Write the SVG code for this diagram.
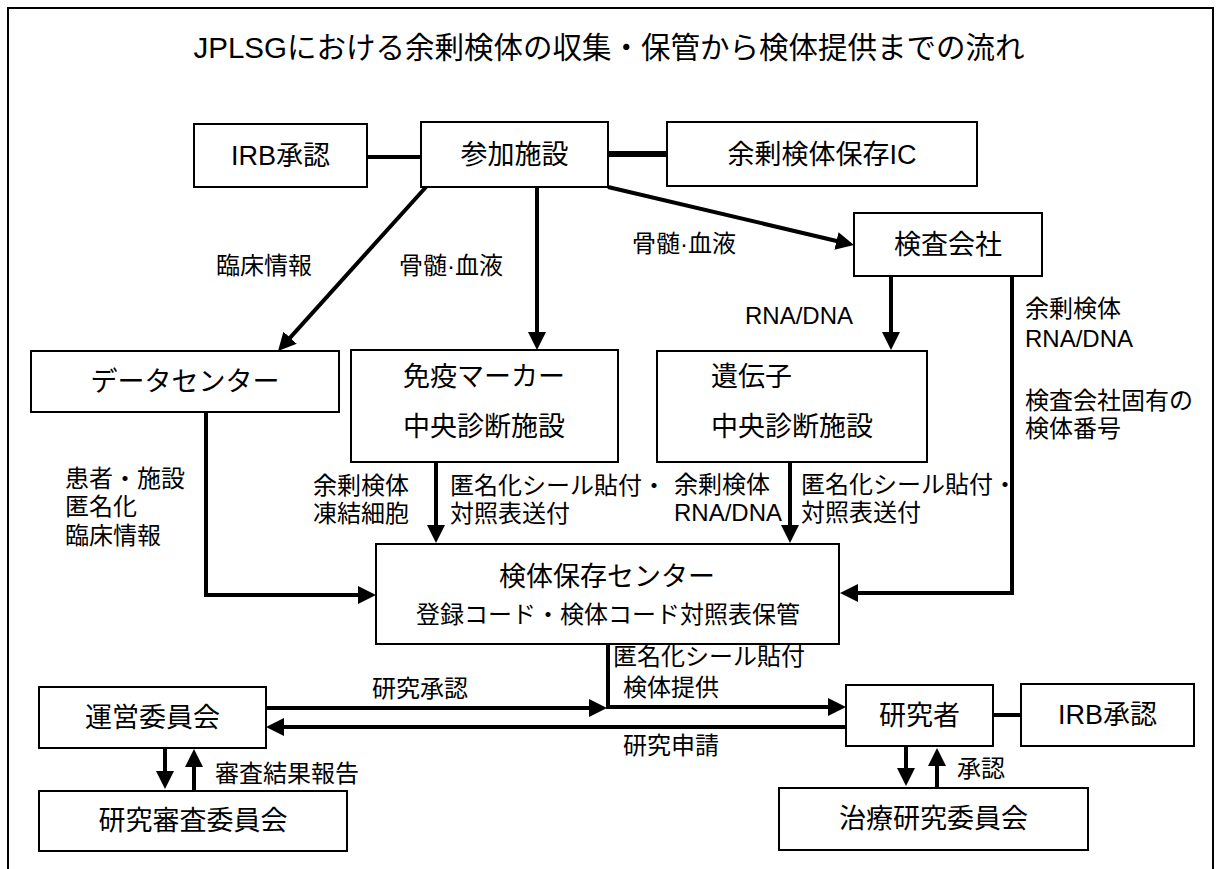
<svg xmlns="http://www.w3.org/2000/svg" width="1218" height="869" viewBox="0 0 1218 869">
<style>
  .box { fill: #fff; stroke: #000; stroke-width: 2; }
  .t { font-family: "Liberation Sans", "Noto Sans CJK JP", sans-serif; fill: #000; dominant-baseline: central; }
  .node { font-size: 27px; text-anchor: middle; }
  .lbl { font-size: 24px; }
  .title { font-size: 29.5px; text-anchor: middle; }
  .ln { fill: none; stroke: #000; stroke-width: 4; stroke-linejoin: miter; }
  .arr { marker-end: url(#ah); }
</style>
<defs>
  <marker id="ah" markerUnits="userSpaceOnUse" markerWidth="18" markerHeight="18" refX="10" refY="9" orient="auto" viewBox="0 0 18 18">
    <path d="M0,0 L18,9 L0,18 Z" fill="#000"/>
  </marker>
</defs>
<rect x="0" y="0" width="1218" height="869" fill="#fff"/>
<path d="M8,869 V8 H1213 V869" fill="none" stroke="#000" stroke-width="2"/>
<text class="t title" x="609" y="47">JPLSGにおける余剰検体の収集・保管から検体提供までの流れ</text>

<g id="connectors">
  <line class="ln" x1="367" y1="157" x2="421" y2="157"/>
  <line class="ln" x1="608" y1="154" x2="667" y2="154" style="stroke-width:6"/>
  <line class="ln arr" x1="426" y1="187" x2="283.4" y2="345.1"/>
  <line class="ln arr" x1="537" y1="187" x2="537" y2="342"/>
  <line class="ln arr" x1="608" y1="187" x2="846.2" y2="243.2"/>
  <line class="ln arr" x1="891" y1="276" x2="891" y2="342"/>
  <polyline class="ln arr" points="1012,276 1012,593 848,593"/>
  <polyline class="ln arr" points="206,412 206,595 368,595"/>
  <line class="ln arr" x1="436" y1="462" x2="436" y2="535"/>
  <line class="ln arr" x1="790" y1="462" x2="790" y2="535"/>
  <polyline class="ln arr" points="608,644 608,707 838,707"/>
  <line class="ln arr" x1="266" y1="708" x2="599" y2="708"/>
  <line class="ln arr" x1="846" y1="727" x2="274" y2="727"/>
  <line class="ln arr" x1="165" y1="748" x2="165" y2="781"/>
  <line class="ln arr" x1="194" y1="791" x2="194" y2="757"/>
  <line class="ln" x1="993" y1="715" x2="1021" y2="715"/>
  <line class="ln arr" x1="906" y1="746" x2="906" y2="778"/>
  <line class="ln arr" x1="937" y1="788" x2="937" y2="756"/>

  <text class="t lbl" x="216" y="265">臨床情報</text>
  <text class="t lbl" x="399" y="265">骨髄·血液</text>
  <text class="t lbl" x="632" y="243">骨髄·血液</text>
  <text class="t lbl" x="745" y="315">RNA/DNA</text>
  <text class="t lbl" x="1025" y="308">余剰検体</text>
  <text class="t lbl" x="1025" y="338">RNA/DNA</text>
  <text class="t lbl" x="1025" y="400">検査会社固有の</text>
  <text class="t lbl" x="1025" y="428">検体番号</text>
  <text class="t lbl" x="65" y="478">患者・施設</text>
  <text class="t lbl" x="65" y="506">匿名化</text>
  <text class="t lbl" x="65" y="535">臨床情報</text>
  <text class="t lbl" x="313" y="485">余剰検体</text>
  <text class="t lbl" x="313" y="513">凍結細胞</text>
  <text class="t lbl" x="450" y="485">匿名化シール貼付・</text>
  <text class="t lbl" x="450" y="513">対照表送付</text>
  <text class="t lbl" x="674" y="484">余剰検体</text>
  <text class="t lbl" x="674" y="512">RNA/DNA</text>
  <text class="t lbl" x="801" y="484">匿名化シール貼付・</text>
  <text class="t lbl" x="801" y="512">対照表送付</text>
  <text class="t lbl" x="613" y="656">匿名化シール貼付</text>
  <text class="t lbl" x="623" y="687">検体提供</text>
  <text class="t lbl" x="372" y="688">研究承認</text>
  <text class="t lbl" x="623" y="745">研究申請</text>
  <text class="t lbl" x="215" y="773">審査結果報告</text>
  <text class="t lbl" x="957" y="768">承認</text>
</g>

<g id="irb-top">
  <rect class="box" x="194" y="124" width="173" height="63"/>
  <text class="t node" x="280.5" y="156">IRB承認</text>
</g>
<g id="sanka">
  <rect class="box" x="421" y="122" width="187" height="65"/>
  <text class="t node" x="514.5" y="155">参加施設</text>
</g>
<g id="ic">
  <rect class="box" x="667" y="122" width="310" height="64"/>
  <text class="t node" x="822" y="155">余剰検体保存IC</text>
</g>
<g id="kensa">
  <rect class="box" x="854" y="213" width="188" height="63"/>
  <text class="t node" x="948" y="245">検査会社</text>
</g>
<g id="datacenter">
  <rect class="box" x="31" y="351" width="308" height="61"/>
  <text class="t node" x="185" y="382">データセンター</text>
</g>
<g id="meneki">
  <rect class="box" x="351" y="350" width="267" height="112"/>
  <text class="t node" x="484" y="377">免疫マーカー</text>
  <text class="t node" x="484" y="427">中央診断施設</text>
</g>
<g id="idenshi">
  <rect class="box" x="657" y="351" width="270" height="111"/>
  <text class="t node" x="711" y="377" style="text-anchor:start">遺伝子</text>
  <text class="t node" x="711" y="427" style="text-anchor:start">中央診断施設</text>
</g>
<g id="hozon">
  <rect class="box" x="376" y="544" width="463" height="100"/>
  <text class="t node" x="607" y="577">検体保存センター</text>
  <text class="t" x="608" y="614" style="font-size:24px;text-anchor:middle">登録コード・検体コード対照表保管</text>
</g>
<g id="unei">
  <rect class="box" x="39" y="687" width="227" height="61"/>
  <text class="t node" x="152.5" y="718">運営委員会</text>
</g>
<g id="shinsa">
  <rect class="box" x="39" y="791" width="308" height="60"/>
  <text class="t node" x="193" y="821">研究審査委員会</text>
</g>
<g id="kenkyusha">
  <rect class="box" x="846" y="685" width="147" height="61"/>
  <text class="t node" x="919.5" y="716">研究者</text>
</g>
<g id="irb-bottom">
  <rect class="box" x="1021" y="684" width="173" height="62"/>
  <text class="t node" x="1107.5" y="715">IRB承認</text>
</g>
<g id="chiryo">
  <rect class="box" x="779" y="788" width="309" height="62"/>
  <text class="t node" x="933.5" y="819">治療研究委員会</text>
</g>
</svg>
